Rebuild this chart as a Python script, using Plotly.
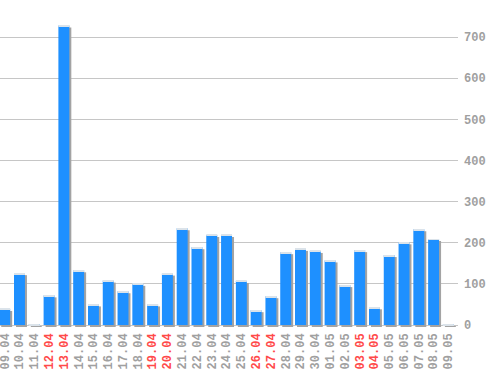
import plotly.graph_objects as go

dates = ["09.04", "10.04", "11.04", "12.04", "13.04", "14.04", "15.04", "16.04",
         "17.04", "18.04", "19.04", "20.04", "21.04", "22.04", "23.04", "24.04",
         "25.04", "26.04", "27.04", "28.04", "29.04", "30.04", "01.05", "02.05",
         "03.05", "04.05", "05.05", "06.05", "07.05", "08.05", "09.05"]
values = [39, 126, 2, 72, 728, 133, 50, 108, 82, 100, 50, 125, 235, 189, 219, 219,
          107, 36, 70, 177, 185, 180, 157, 97, 182, 43, 170, 201, 233, 209, 2]
weekend = ["12.04", "13.04", "19.04", "20.04", "26.04", "27.04", "03.05", "04.05"]
y_ticks = [0, 100, 200, 300, 400, 500, 600, 700]

BLUE = "#1e90ff"
SHADOW = "#a3a3a3"
HILITE = "#dbe3ea"
GRID = "#c6c6c6"
GREY_TXT = "#a0a0a0"
RED_TXT = "#ff4a4a"

idx = list(range(len(dates)))
bw = 0.74
px_per_cat = 14.79
px_per_unit = 0.4114
dx = 2 / px_per_cat
dy = 2 / px_per_unit
hl = 2.4

fig = go.Figure()
fig.add_trace(go.Bar(x=idx, y=values, base=[-dy] * len(values), width=bw,
                     offset=-bw / 2 + dx, marker=dict(color=SHADOW, line=dict(width=0)),
                     hoverinfo="skip"))
fig.add_trace(go.Bar(x=idx, y=values, width=bw, offset=-bw / 2,
                     marker=dict(color=BLUE, line=dict(width=0)), hoverinfo="skip"))
fig.add_trace(go.Bar(x=idx, y=[hl] * len(values), base=[v - hl for v in values],
                     width=bw, offset=-bw / 2,
                     marker=dict(color=HILITE, line=dict(width=0)), hoverinfo="skip"))

ticktext = [f'<span style="color:{RED_TXT}">{d}</span>' if d in weekend else d for d in dates]

fig.update_layout(
    width=498, height=370,
    margin=dict(l=0, r=40, t=0, b=42),
    paper_bgcolor="white", plot_bgcolor="white",
    barmode="overlay", showlegend=False,
    font=dict(family="Liberation Mono", size=12, color=GREY_TXT),
    xaxis=dict(range=[-0.318, 30.65], tickmode="array", tickvals=idx, ticktext=ticktext,
               tickangle=-90, showgrid=False, zeroline=False, showline=False,
               ticks="", ticklabelstandoff=2, ticklabeloverflow="allow",
               tickfont=dict(family="Liberation Mono", size=12, color=GREY_TXT,
                             weight="bold")),
    yaxis=dict(range=[-7.3, 790], side="right", tickvals=y_ticks,
               showgrid=True, gridcolor=GRID, gridwidth=1,
               zeroline=True, zerolinecolor=GRID, zerolinewidth=1,
               showline=False, ticks="", ticklabelstandoff=5,
               tickfont=dict(family="Liberation Mono", size=12, color=GREY_TXT,
                             weight="bold")),
)

fig.write_html("out.html")
